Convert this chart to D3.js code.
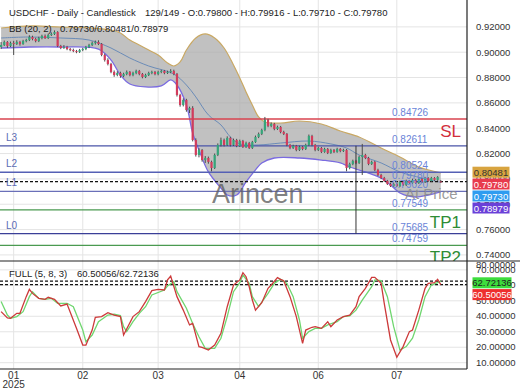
<!DOCTYPE html>
<html>
<head>
<meta charset="utf-8">
<script src="https://cdn.jsdelivr.net/npm/d3@7"></script>
<style>
  body { margin: 0; background: #fff; }
  svg { font-family: "Liberation Sans", Arial, sans-serif; display: block; }
</style>
</head>
<body>
<div id="chart"></div>
<script>
// candles, [open, high, low, close]
const ohlc = [
  [.9041,.9080,.9025,.9057],[.9057,.9092,.9049,.9080],[.9080,.9088,.9033,.9049],[.9049,.9084,.9041,.9073],
  [.9073,.9090,.8978,.9065],[.9065,.9094,.9057,.9080],[.9080,.9090,.9052,.9065],[.9065,.9098,.9058,.9088],
  [.9088,.9106,.9078,.9096],[.9096,.9134,.9088,.9120],[.9120,.9130,.9094,.9104],[.9104,.9114,.9078,.9088],
  [.9088,.9122,.9080,.9112],[.9112,.9138,.9102,.9128],[.9128,.9140,.9104,.9112],[.9112,.9146,.9104,.9136],
  [.9136,.9156,.9128,.9144],[.9144,.9172,.9136,.9159],[.9159,.9166,.9040,.9049],[.9049,.9058,.9024,.9033],
  [.9033,.9056,.9026,.9041],[.9041,.9050,.9016,.9025],[.9025,.9034,.9008,.9017],[.9017,.9028,.9000,.9009],
  [.9009,.9018,.8992,.9002],[.9002,.9026,.8994,.9017],[.9017,.9034,.9008,.9025],[.9025,.9050,.9016,.9041],
  [.9041,.9066,.9032,.9057],[.9057,.9084,.9048,.9073],[.9073,.9092,.9060,.9080],[.9080,.9094,.9056,.9065],
  [.9065,.9072,.8968,.8978],[.8978,.8988,.8926,.8938],[.8938,.8952,.8896,.8907],[.8907,.8916,.8834,.8844],
  [.8844,.8856,.8806,.8820],[.8820,.8850,.8810,.8836],[.8836,.8846,.8798,.8812],[.8812,.8838,.8802,.8828],
  [.8828,.8856,.8818,.8844],[.8844,.8852,.8810,.8820],[.8820,.8846,.8810,.8836],[.8836,.8862,.8826,.8852],
  [.8852,.8860,.8818,.8828],[.8828,.8836,.8794,.8804],[.8804,.8830,.8796,.8820],[.8820,.8846,.8812,.8836],
  [.8836,.8854,.8826,.8844],[.8844,.8852,.8818,.8828],[.8828,.8854,.8818,.8844],[.8844,.8862,.8834,.8852],
  [.8852,.8860,.8826,.8836],[.8836,.8854,.8828,.8844],[.8844,.8866,.8834,.8852],[.8852,.8862,.8818,.8828],
  [.8828,.8836,.8650,.8662],[.8662,.8672,.8570,.8583],[.8583,.8636,.8572,.8623],[.8623,.8632,.8530,.8544],
  [.8544,.8570,.8520,.8560],[.8560,.8574,.8296,.8307],[.8307,.8320,.8176,.8189],[.8189,.8242,.8170,.8228],
  [.8228,.8236,.8136,.8149],[.8149,.8180,.8126,.8165],[.8165,.8176,.8120,.8134],[.8134,.8144,.8060,.8086],
  [.8086,.8200,.8078,.8189],[.8189,.8280,.8180,.8268],[.8268,.8326,.8256,.8307],[.8307,.8318,.8256,.8268],
  [.8268,.8336,.8260,.8323],[.8323,.8332,.8256,.8268],[.8268,.8318,.8260,.8307],[.8307,.8316,.8250,.8260],
  [.8260,.8310,.8252,.8299],[.8299,.8308,.8244,.8252],[.8252,.8294,.8244,.8283],[.8283,.8292,.8236,.8244],
  [.8244,.8300,.8236,.8291],[.8291,.8342,.8284,.8331],[.8331,.8366,.8322,.8355],[.8355,.8396,.8346,.8386],
  [.8386,.8489,.8376,.8465],[.8465,.8474,.8408,.8418],[.8418,.8446,.8408,.8434],[.8434,.8442,.8384,.8394],
  [.8394,.8420,.8386,.8410],[.8410,.8418,.8360,.8370],[.8370,.8380,.8346,.8355],[.8355,.8362,.8258,.8268],
  [.8268,.8276,.8234,.8244],[.8244,.8270,.8236,.8260],[.8260,.8268,.8218,.8228],[.8228,.8262,.8220,.8252],
  [.8252,.8260,.8226,.8236],[.8236,.8278,.8228,.8268],[.8268,.8350,.8260,.8339],[.8339,.8348,.8258,.8268],
  [.8268,.8276,.8218,.8228],[.8228,.8254,.8220,.8244],[.8244,.8252,.8204,.8213],[.8213,.8246,.8206,.8236],
  [.8236,.8244,.8196,.8205],[.8205,.8238,.8198,.8228],[.8228,.8236,.8204,.8213],[.8213,.8246,.8206,.8236],
  [.8236,.8244,.8210,.8220],[.8220,.8238,.8212,.8228],[.8228,.8236,.8060,.8086],[.8086,.8128,.8076,.8118],
  [.8118,.8152,.8108,.8142],[.8142,.8150,.8116,.8126],[.8126,.8184,.8118,.8173],[.8173,.8276,.8031,.8189],
  [.8189,.8198,.8156,.8165],[.8165,.8174,.8108,.8118],[.8118,.8144,.8110,.8134],[.8134,.8142,.8062,.8071],
  [.8071,.8080,.8022,.8031],[.8031,.8040,.7998,.8007],[.8007,.8016,.7976,.7984],[.7984,.7992,.7952,.7960],
  [.7960,.7968,.7936,.7944],[.7944,.7970,.7936,.7960],[.7960,.7968,.7936,.7944],[.7944,.7986,.7936,.7976],
  [.7976,.7984,.7944,.7952],[.7952,.7994,.7944,.7984],[.7984,.7992,.7960,.7968],[.7968,.8002,.7960,.7992],
  [.7992,.8000,.7960,.7968],[.7968,.8008,.7960,.7999],[.7999,.8008,.7968,.7976],[.7976,.8016,.7968,.8007],
  [.8007,.8014,.7976,.7984],[.7984,.8016,.7976,.8007],[.8007,.8014,.7984,.7992],[.7992,.8022,.7984,.8015],
  [.7980,.79916,.7971,.7978]
];
const slotCount = 149;

// Bollinger bands, [bar, value]
const bbUpper = [[0,.9191],[10,.9207],[19,.9199],[29,.9191],[35,.9175],[38,.9151],[41,.9096],[44,.9057],
  [47,.9017],[50,.8978],[53,.8915],[55,.8891],[57,.8923],[59,.9017],[62,.9112],[65,.9144],[68,.9112],
  [71,.9033],[74,.8899],[76,.8797],[78,.8686],[80,.8583],[82,.8489],[84,.8449],[89,.8441],[95,.8457],
  [102,.8433],[108,.8378],[114,.8331],[121,.8244],[127,.8173],[133,.8094],[140,.80481]];
const bbMiddle = [[0,.9112],[9,.9120],[19,.9112],[28,.9096],[35,.9033],[41,.8954],[47,.8891],[55,.8828],
  [59,.8741],[62,.8647],[66,.8505],[70,.8426],[73,.8331],[76,.8276],[82,.8268],[89,.8283],[98,.8299],
  [105,.8276],[110,.8244],[114,.8189],[121,.8126],[127,.8055],[134,.8007],[140,.79730]];
const bbLower = [[0,.9033],[9,.9041],[19,.9041],[31,.9025],[35,.8938],[38,.8820],[41,.8749],[46,.8726],
  [51,.8734],[54,.8781],[56,.8741],[59,.8583],[61,.8362],[63,.8228],[66,.8055],[70,.7928],[72,.7873],
  [75,.7873],[78,.7976],[81,.8071],[83,.8126],[87,.8165],[95,.8165],[102,.8149],[108,.8126],[111,.8094],
  [116,.8055],[121,.8007],[124,.7952],[127,.7889],[132,.7857],[136,.7873],[140,.78979]];

// full stochastic, [bar, value]
const stochK = [[0,43],[2,39],[3,38.7],[5,41.9],[6,41.9],[8,52.7],[9,57.4],[10,54.8],[12,51.6],[14,51],
  [15,52.3],[17,51],[19,46.7],[21,47.9],[24,32.2],[26,21.4],[27,21.4],[29,31.1],[30,39.3],[32,39.8],
  [34,42.3],[36,40.8],[38,39.8],[39,27.9],[42,39.8],[44,43],[46,49.5],[48,56.6],[50,57.4],[52,57],
  [53,63.5],[54,66],[56,52.7],[58,44],[60,34.4],[61,35.4],[63,20.4],[64,19.9],[66,18.2],[68,21.4],
  [70,29],[72,46.2],[74,60.2],[76,63.5],[77,68.2],[78,65.6],[79,59.1],[80,50.5],[81,44],[83,48.8],
  [85,58.1],[86,60.2],[88,65],[89,63.9],[90,63],[92,52.7],[94,39.8],[96,22.5],[97,31.1],[99,32.9],
  [100,33.3],[102,32.2],[104,36.5],[105,33.3],[107,37.6],[109,39.8],[111,40.8],[113,46.2],[114,52.7],
  [116,58.1],[118,65.2],[119,65.2],[121,61.3],[122,48.4],[124,24.7],[126,13.5],[128,20.4],[130,30.1],
  [131,31.1],[133,44],[135,58.1],[136,61.3],[138,61.7],[139,63.9],[140,60.50056]];
const stochD = [[0,49.5],[2,40.8],[3,38.7],[5,39.8],[7,43],[9,52.7],[10,55.9],[12,51.6],[14,51],
  [16,51.6],[18,48.4],[21,48.4],[23,46.2],[26,31.1],[27,23.6],[29,27.9],[31,36.5],[34,40.8],[36,41.3],
  [38,40.4],[39,33.3],[40,30.1],[42,36.5],[44,41.9],[46,46.2],[48,53.8],[52,57],[53,59.6],[55,62.4],
  [56,55.9],[59,45.2],[61,35.4],[63,26.8],[65,19.3],[68,19.3],[70,25.8],[72,39.8],[74,55.9],[76,61.7],
  [77,66.7],[79,61.3],[80,52.7],[82,46.2],[85,54.8],[87,61.3],[89,63.9],[91,61.3],[93,52.7],[95,37.6],
  [96,25.8],[98,30.1],[100,32.2],[102,32.2],[104,34.4],[107,36.5],[109,39.8],[111,40.2],[113,44],
  [115,50.5],[118,59.1],[119,63.5],[121,63],[123,52.7],[125,33.3],[127,18.2],[129,20.4],[131,25.8],
  [133,37.6],[135,52.7],[137,60.2],[139,61.7],[140,62.72136]];

// axes
const monthBars = [4, 26, 50, 76, 101, 126];
const monthLabels = ["01", "02", "03", "04", "06", "07"];
const priceTicks = [0.74, 0.76, 0.78, 0.80, 0.82, 0.84, 0.86, 0.88, 0.90, 0.92];
const stochTicks = [0, 10, 20, 30, 40, 50, 60, 70, 80];

// trade levels
const levelValues = [0.84726, 0.82611, 0.80524, 0.79020, 0.77549, 0.75685, 0.74759];
const levelNames = ["SL", "L3", "L2", "L1", "TP1", "L0", "TP2"];
const lastClose = 0.79780;
const markerBar = 113;

const W = 520, H = 390;
const plotW = 467, mainBottom = 261, stochBottom = 369;
const fmt = d3.format(".5f");

const svg = d3.select("#chart").append("svg")
  .attr("width", W).attr("height", H);

const defs = svg.append("defs");
defs.append("clipPath").attr("id", "clipMain")
  .append("rect").attr("x", 0).attr("y", 0).attr("width", plotW).attr("height", mainBottom);
defs.append("clipPath").attr("id", "clipStoch")
  .append("rect").attr("x", 0).attr("y", mainBottom).attr("width", plotW).attr("height", stochBottom - mainBottom);
defs.append("clipPath").attr("id", "clipStochAxis")
  .append("rect").attr("x", plotW).attr("y", mainBottom).attr("width", W - plotW).attr("height", stochBottom - mainBottom);

const x = d3.scaleBand().domain(d3.range(slotCount)).range([0, plotW]).paddingInner(0.3);
const cx = i => x(i) + x.bandwidth() / 2;
const y = d3.scaleLinear().domain([0.7352, 0.9412]).range([mainBottom, 0]);
const ys = d3.scaleLinear().domain([5.93, 75.74]).range([stochBottom, mainBottom]);

// grid
const grid = svg.append("g").attr("stroke", "#e4e4e4").attr("stroke-width", 1);
grid.selectAll("line.v").data(monthBars).enter().append("line")
  .attr("x1", d => cx(d)).attr("x2", d => cx(d)).attr("y1", 0).attr("y2", stochBottom);
grid.selectAll("line.h").data(priceTicks).enter().append("line")
  .attr("x1", 0).attr("x2", plotW).attr("y1", d => y(d)).attr("y2", d => y(d));
grid.selectAll("line.s").data(stochTicks.filter(d => ys(d) > mainBottom && ys(d) < stochBottom)).enter().append("line")
  .attr("x1", 0).attr("x2", plotW).attr("y1", d => ys(d)).attr("y2", d => ys(d));

// main panel
const main = svg.append("g").attr("clip-path", "url(#clipMain)");

const bbLine = d3.line().x(d => cx(d[0])).y(d => y(d[1])).curve(d3.curveCatmullRom);
main.append("path")
  .attr("d", bbLine(bbUpper) + "L" + bbLine(bbLower.slice().reverse()).slice(1) + "Z")
  .attr("fill", "#a9a9a9").attr("fill-opacity", 0.72);
main.append("path").attr("d", bbLine(bbUpper)).attr("fill", "none").attr("stroke", "#c9a863").attr("stroke-width", 1.2);
main.append("path").attr("d", bbLine(bbMiddle)).attr("fill", "none").attr("stroke", "#6b8cb8").attr("stroke-width", 1);
main.append("path").attr("d", bbLine(bbLower)).attr("fill", "none").attr("stroke", "#7a6be0").attr("stroke-width", 1.3);

const levelColors = ["#d9434f", "#4a55a8", "#5560b5", "#6a6fb8", "#4a9a50", "#3a3f98", "#4a9a50"];
main.selectAll("line.level").data(levelValues).enter().append("line")
  .attr("x1", 0).attr("x2", plotW)
  .attr("y1", d => y(d)).attr("y2", d => y(d))
  .attr("stroke", (d, i) => levelColors[i]).attr("stroke-width", 1.3);

main.append("line")
  .attr("x1", 0).attr("x2", plotW).attr("y1", y(lastClose)).attr("y2", y(lastClose))
  .attr("stroke", "#111").attr("stroke-width", 1.2).attr("stroke-dasharray", "3,2");

// candles
const candle = main.selectAll("g.candle").data(ohlc).enter().append("g");
candle.append("line")
  .attr("x1", (d, i) => cx(i)).attr("x2", (d, i) => cx(i))
  .attr("y1", d => y(d[1])).attr("y2", d => y(d[2]))
  .attr("stroke", "#4a4a4a").attr("stroke-width", 1);
candle.append("rect")
  .attr("x", (d, i) => x(i)).attr("width", x.bandwidth())
  .attr("y", d => y(Math.max(d[0], d[3])))
  .attr("height", d => Math.max(1, Math.abs(y(d[0]) - y(d[3]))))
  .attr("fill", d => d[3] >= d[0] ? "#35a57a" : "#d23c5c");

// trade marker
main.append("line")
  .attr("x1", cx(markerBar)).attr("x2", cx(markerBar))
  .attr("y1", y(levelValues[1])).attr("y2", y(levelValues[5]))
  .attr("stroke", "#333").attr("stroke-width", 1);

// watermark texts
main.append("text").attr("x", 212).attr("y", 203).text("Arincen")
  .attr("font-size", 27).attr("fill", "#5f5f5f").attr("fill-opacity", 0.8);
main.append("text").attr("x", 405).attr("y", 199).text("At Price")
  .attr("font-size", 15).attr("fill", "#8a8a8a").attr("fill-opacity", 0.85);

// level tags on the left
const leftTags = [1, 2, 3, 5];
main.selectAll("text.ltag").data(leftTags).enter().append("text")
  .attr("x", 6).attr("y", d => y(levelValues[d]) - 5)
  .attr("font-size", 10).attr("fill", "#5b6bb5")
  .text(d => levelNames[d]);

// level values on the right
const valueLabels = levelValues.concat([lastClose]);
main.selectAll("text.lval").data(valueLabels).enter().append("text")
  .attr("x", 392).attr("y", d => y(d) - 3)
  .attr("font-size", 10).attr("fill", "#6a84d8")
  .text(d => fmt(d));

// SL / TP tags
const bigTags = [0, 4, 6];
main.selectAll("text.btag").data(bigTags).enter().append("text")
  .attr("x", 461).attr("y", d => y(levelValues[d]) + 18)
  .attr("text-anchor", "end").attr("font-size", 17)
  .attr("fill", d => d === 0 ? "#d22f3c" : "#2e8c34")
  .text(d => levelNames[d]);

// stochastic panel
const stoch = svg.append("g").attr("clip-path", "url(#clipStoch)");
const stLine = d3.line().x(d => cx(d[0])).y(d => ys(d[1])).curve(d3.curveLinear);
[stochD[stochD.length - 1][1], stochK[stochK.length - 1][1]].forEach(v => {
  stoch.append("line").attr("x1", 0).attr("x2", plotW).attr("y1", ys(v)).attr("y2", ys(v))
    .attr("stroke", "#111").attr("stroke-width", 1.2).attr("stroke-dasharray", "3,2");
});
stoch.append("path").attr("d", stLine(stochD)).attr("fill", "none").attr("stroke", "#6fd66f").attr("stroke-width", 1.3);
stoch.append("path").attr("d", stLine(stochK)).attr("fill", "none").attr("stroke", "#cc3a3a").attr("stroke-width", 1.3);

// borders
const border = svg.append("g").attr("stroke", "#222").attr("stroke-width", 1.2);
border.append("line").attr("x1", 0).attr("x2", W).attr("y1", mainBottom).attr("y2", mainBottom);
border.append("line").attr("x1", plotW).attr("x2", plotW).attr("y1", 0).attr("y2", stochBottom);
border.append("line").attr("x1", 0).attr("x2", plotW).attr("y1", stochBottom).attr("y2", stochBottom);

// axes
const priceAxis = svg.append("g").attr("transform", `translate(${plotW},0)`)
  .call(d3.axisRight(y).tickValues(priceTicks).tickFormat(fmt).tickSize(0).tickPadding(9));
priceAxis.select(".domain").remove();
priceAxis.selectAll("text").attr("font-size", 9.5).attr("fill", "#333").attr("font-family", null);

const stochAxis = svg.append("g").attr("clip-path", "url(#clipStochAxis)")
  .append("g").attr("transform", `translate(${plotW},0)`)
  .call(d3.axisRight(ys).tickValues(stochTicks).tickFormat(fmt).tickSize(0).tickPadding(9));
stochAxis.select(".domain").remove();
stochAxis.selectAll(".tick").attr("transform", d => `translate(0,${d === 0 ? 373 : Math.max(265, Math.min(363, ys(d)))})`);
stochAxis.selectAll("text").attr("font-size", 9.5).attr("fill", "#333").attr("font-family", null);

const xAxis = svg.append("g").attr("transform", `translate(0,${stochBottom})`)
  .call(d3.axisBottom(x).tickValues(monthBars).tickFormat((d, i) => monthLabels[i]).tickSize(0).tickPadding(3));
xAxis.select(".domain").remove();
xAxis.selectAll("text").attr("font-size", 10).attr("fill", "#333").attr("font-family", null);
svg.append("text").attr("x", cx(monthBars[0])).attr("y", 388).attr("text-anchor", "middle")
  .attr("font-size", 10).attr("fill", "#333").text("2025");

// value boxes on the right axis
const boxValues = [bbUpper[bbUpper.length - 1][1], lastClose, bbMiddle[bbMiddle.length - 1][1], bbLower[bbLower.length - 1][1]];
const boxCenters = [172.2, 184, 196, 208];
const boxFills = ["#d8a43f", "#e83a4c", "#2f9cf0", "#6a40d8"];
const boxText = ["#333", "#fff", "#fff", "#fff"];
const boxes = svg.selectAll("g.box").data(boxValues).enter().append("g");
boxes.append("rect").attr("x", 472.5).attr("width", 37).attr("height", 11)
  .attr("y", (d, i) => boxCenters[i] - 5.5).attr("fill", (d, i) => boxFills[i]);
boxes.append("text").attr("x", 491).attr("y", (d, i) => boxCenters[i] + 3.5)
  .attr("text-anchor", "middle").attr("font-size", 9.5).attr("fill", (d, i) => boxText[i])
  .text(d => fmt(d));

const sBoxValues = [stochD[stochD.length - 1][1], stochK[stochK.length - 1][1]];
const sBoxCenters = [282.8, 294.6];
const sBoxFills = ["#3ddc3d", "#ee2e2e"];
const sBoxText = ["#222", "#fff"];
const sBoxes = svg.selectAll("g.sbox").data(sBoxValues).enter().append("g");
sBoxes.append("rect").attr("x", 472.5).attr("width", 39).attr("height", 11)
  .attr("y", (d, i) => sBoxCenters[i] - 5.5).attr("fill", (d, i) => sBoxFills[i]);
sBoxes.append("text").attr("x", 492).attr("y", (d, i) => sBoxCenters[i] + 3.5)
  .attr("text-anchor", "middle").attr("font-size", 9.5).attr("fill", (d, i) => sBoxText[i])
  .text(d => fmt(d));

// headers
const last = ohlc[ohlc.length - 1];
const head = svg.append("g").attr("font-size", 9.5).attr("fill", "#222");
head.append("text").attr("x", 9).attr("y", 16).text("USDCHF - Daily - Candlestick");
head.append("text").attr("x", 145).attr("y", 16)
  .text(`129/149 - O:${fmt(last[0])} - H:${fmt(last[1])} - L:${fmt(last[2])} - C:${fmt(last[3])}`);
head.append("text").attr("x", 9).attr("y", 32).text("BB (20, 2)");
head.append("text").attr("x", 60).attr("y", 32)
  .text(`${fmt(boxValues[2])}/${fmt(boxValues[0])}/${fmt(boxValues[3])}`);
head.append("text").attr("x", 9).attr("y", 277).text("FULL (5, 8, 3)");
head.append("text").attr("x", 77).attr("y", 277)
  .text(`${fmt(sBoxValues[1])}/${fmt(sBoxValues[0])}`);
</script>
</body>
</html>
